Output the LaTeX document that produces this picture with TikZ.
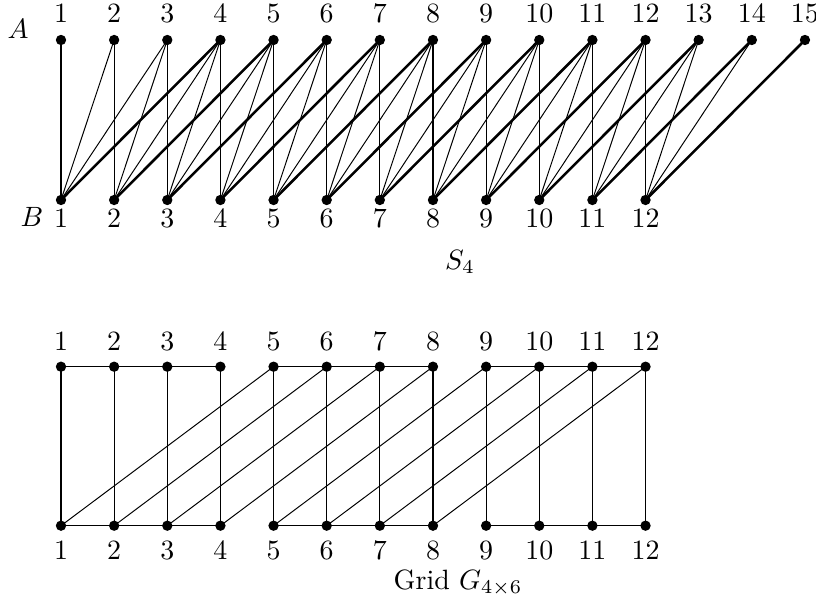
\documentclass[tikz,border=0pt]{standalone}
\begin{document}
\begin{tikzpicture}[x=0.358pt,y=-0.358pt,
  dot/.style={circle,fill=black,inner sep=0pt,minimum size=3.7pt},
  lbl/.style={inner sep=0pt},
  thinedge/.style={line width=0.35pt},
  vedge/.style={line width=0.4pt},
  thickedge/.style={line width=0.9pt}]
\useasboundingbox (0,0) rectangle (816,608);
% ---------- S_4 ----------
\foreach \i in {1,...,15} {
  \pgfmathsetmacro\xx{61+53.14*(\i-1)}
  \node[dot] (a\i) at (\xx,40) {};
  \node[lbl] (al\i) at (\xx,14) {$\i$};
}
\foreach \i in {1,...,12} {
  \pgfmathsetmacro\xx{61+53.14*(\i-1)}
  \node[dot] (b\i) at (\xx,200) {};
  \node[lbl] (bl\i) at (\xx,219) {$\i$};
}
\node[lbl] (Alab) at (18,29) {$A$};
\node[lbl] (Blab) at (32,217) {$B$};
\foreach \i in {1,...,12} {
  \pgfmathtruncatemacro\j{\i+1}
  \pgfmathtruncatemacro\k{\i+2}
  \pgfmathtruncatemacro\l{\i+3}
  \draw[vedge] (b\i.center) -- (a\i.center);
  \draw[thinedge] (b\i.center) -- (a\j.center);
  \draw[thinedge] (b\i.center) -- (a\k.center);
  \draw[thickedge] (b\i.center) -- (a\l.center);
}
\node[lbl] (S4) at (460,262) {$S_4$};
% ---------- Grid ----------
\foreach \i in {1,...,12} {
  \pgfmathsetmacro\xx{61+53.14*(\i-1)}
  \node[dot] (t\i) at (\xx,366.7) {};
  \node[lbl] (tl\i) at (\xx,342) {$\i$};
  \node[dot] (u\i) at (\xx,525.7) {};
  \node[lbl] (ul\i) at (\xx,551) {$\i$};
  \draw[vedge] (t\i.center) -- (u\i.center);
}
\foreach \a/\b in {1/2,2/3,3/4,5/6,6/7,7/8,9/10,10/11,11/12} {
  \draw[vedge] (t\a.center) -- (t\b.center);
  \draw[vedge] (u\a.center) -- (u\b.center);
}
\foreach \i in {1,...,8} {
  \pgfmathtruncatemacro\j{\i+4}
  \draw[thinedge] (u\i.center) -- (t\j.center);
}
\node[lbl] (G) at (458,583) {Grid $G_{4\times 6}$};
\end{tikzpicture}
\end{document}
